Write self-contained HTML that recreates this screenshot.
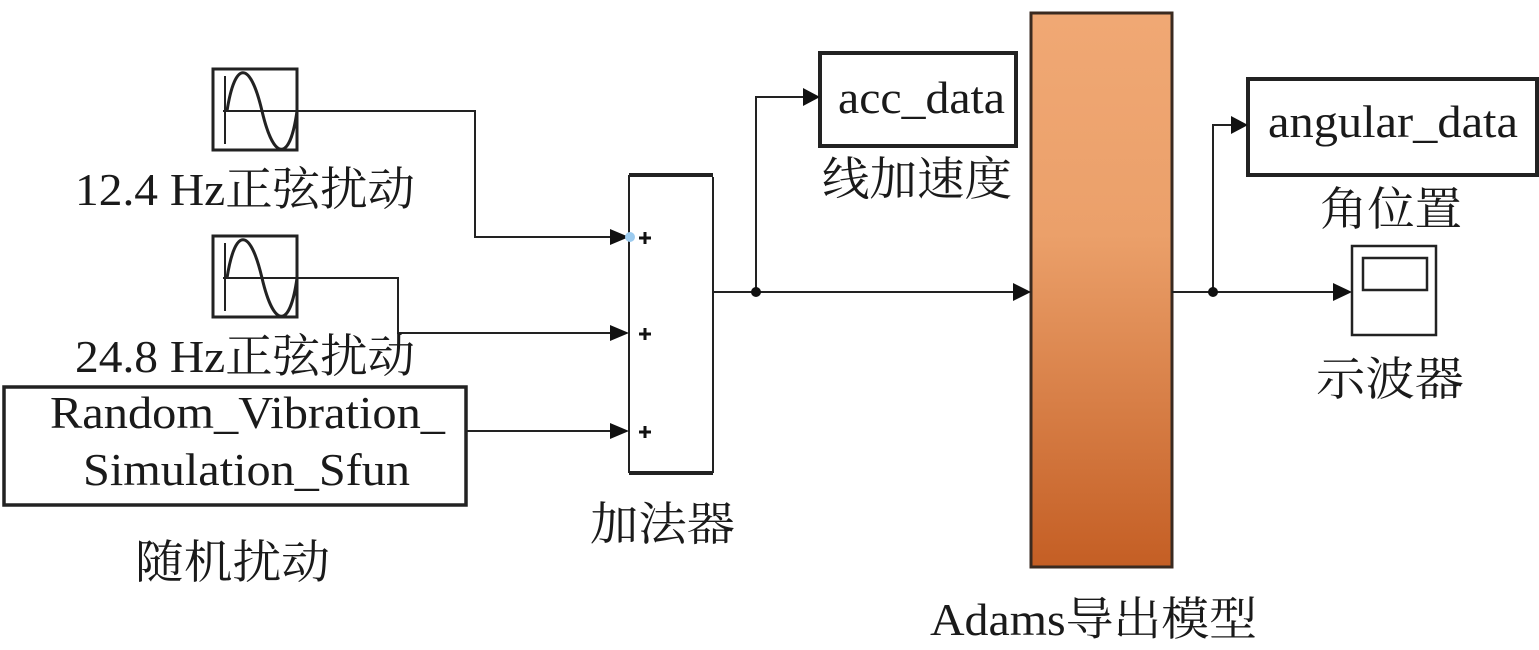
<!DOCTYPE html>
<html><head><meta charset="utf-8"><style>
body{margin:0;background:#fff}
svg{display:block}
text{font-family:"Liberation Serif","Noto Serif CJK SC",serif;fill:#1a1a1a}
</style></head><body>
<svg width="1539" height="650" viewBox="0 0 1539 650" xmlns="http://www.w3.org/2000/svg">
<defs>
<linearGradient id="g" x1="0" y1="0" x2="0" y2="1">
<stop offset="0" stop-color="#f0a874"/><stop offset="0.4" stop-color="#eba06a"/><stop offset="1" stop-color="#c45e24"/>
</linearGradient>
</defs>
<g fill="none" stroke="#222" stroke-width="2">
<rect x="213" y="69" width="84" height="81" stroke-width="3"/>
<path d="M225 76V144M223 111H297"/>
<path d="M227 111C235 60 250 60 262 111S290 162 297 111" stroke-width="3"/>
<rect x="213" y="236" width="84" height="81" stroke-width="3"/>
<path d="M225 243V311M223 278H297"/>
<path d="M227 278C235 227 250 227 262 278S290 329 297 278" stroke-width="3"/>
<rect x="4" y="387" width="462" height="118" stroke-width="3.5"/>
<path d="M629 175V473M713 177V473"/>
<path d="M629 175H713M629 473H713" stroke-width="4"/>
<path d="M297 111H475V237H610"/>
<path d="M297 278H398V333H610"/>
<path d="M466 431H610"/>
<path d="M713 292H1013"/>
<path d="M756 292V97H803"/>
<rect x="820" y="53" width="196" height="93" stroke-width="4"/>
<rect x="1031" y="13" width="141" height="554" fill="url(#g)" stroke="#3a2a20" stroke-width="3"/>
<path d="M1172 292H1333"/>
<path d="M1213 292V125H1231"/>
<rect x="1248" y="79" width="289" height="96" stroke-width="4"/>
<rect x="1352" y="246" width="84" height="89" stroke-width="2.5"/>
<rect x="1363" y="258" width="64" height="32" stroke-width="2.5"/>
</g>
<g fill="#111">
<path d="M610 229L629 237L610 245Z"/>
<path d="M610 325L629 333L610 341Z"/>
<path d="M610 423L629 431L610 439Z"/>
<path d="M803 88L820 97L803 106Z"/>
<path d="M1013 283L1031 292L1013 301Z"/>
<path d="M1231 116L1248 125L1231 134Z"/>
<path d="M1333 283L1352 292L1333 301Z"/>
<circle cx="756" cy="292" r="5"/><circle cx="1213" cy="292" r="5"/>
<circle cx="630" cy="237" r="5" fill="#9ccbef"/>
</g>
<g stroke="#111" stroke-width="3">
<path d="M639 238H651M645 232V244"/>
<path d="M639 334H651M645 328V340"/>
<path d="M639 432H651M645 426V438"/>
</g>
<g font-size="46" lengthAdjust="spacingAndGlyphs">
<text x="75" y="205" textLength="340" lengthAdjust="spacingAndGlyphs">12.4 Hz正弦扰动</text>
<text x="75" y="372" textLength="340" lengthAdjust="spacingAndGlyphs">24.8 Hz正弦扰动</text>
<text x="50" y="428" textLength="395" lengthAdjust="spacingAndGlyphs">Random_Vibration_</text>
<text x="83" y="485" textLength="327" lengthAdjust="spacingAndGlyphs">Simulation_Sfun</text>
<text x="135" y="578" textLength="195" lengthAdjust="spacingAndGlyphs">随机扰动</text>
<text x="590" y="540" textLength="145" lengthAdjust="spacingAndGlyphs">加法器</text>
<text x="838" y="113" textLength="167" lengthAdjust="spacingAndGlyphs">acc_data</text>
<text x="822" y="195" textLength="190" lengthAdjust="spacingAndGlyphs">线加速度</text>
<text x="1268" y="137" textLength="250" lengthAdjust="spacingAndGlyphs">angular_data</text>
<text x="1320" y="225" textLength="142" lengthAdjust="spacingAndGlyphs">角位置</text>
<text x="1316" y="395" textLength="148" lengthAdjust="spacingAndGlyphs">示波器</text>
<text x="930" y="635" textLength="327" lengthAdjust="spacingAndGlyphs">Adams导出模型</text>
</g>
</svg>
</body></html>
